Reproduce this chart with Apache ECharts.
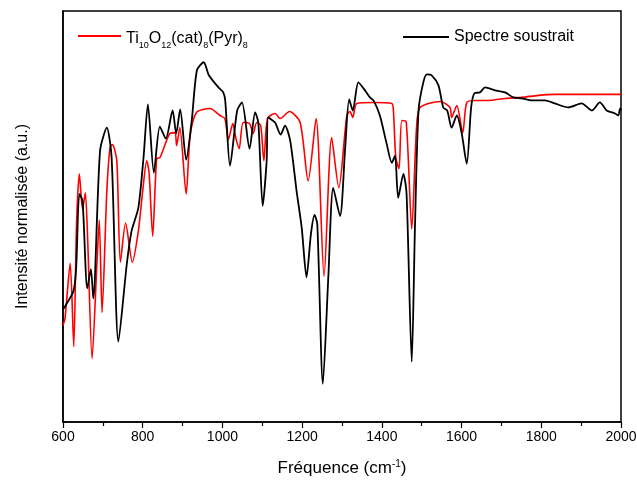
<!DOCTYPE html>
<html>
<head>
<meta charset="utf-8">
<script src="https://cdn.jsdelivr.net/npm/echarts@6/dist/echarts.min.js"></script>
<style>
  html, body { margin: 0; padding: 0; background: #fff; }
  #chart { width: 637px; height: 488px; }
</style>
</head>
<body>
<div id="chart"></div>
<script>
// wavenumbers (cm-1) and normalised intensities
const redX = [600, 605, 618, 627, 634, 641, 649, 656, 662, 673, 685, 691, 698, 710, 718, 724, 735, 744, 757, 774, 789, 800, 810, 816, 825, 835, 843, 856, 868, 881, 885, 893, 909, 919, 935, 969, 994, 1006, 1015, 1026, 1034, 1042, 1052, 1068, 1077, 1086, 1096, 1104, 1113, 1132, 1145, 1168, 1195, 1215, 1235, 1255, 1274, 1292, 1312, 1320, 1327, 1337, 1379, 1425, 1429, 1435, 1443, 1450, 1461, 1475, 1487, 1496, 1546, 1571, 1575, 1588, 1603, 1613, 1634, 1667, 1709, 1751, 1793, 1834, 1918, 2000]
const redY = [96, 103, 158, 75, 197, 247, 212, 228, 180, 63, 157, 201, 109, 230, 273, 276, 260, 159, 198, 159, 190, 230, 260, 248, 185, 262, 263, 276, 287, 288, 275, 293, 227, 285, 308, 312, 305, 302, 281, 297, 282, 272, 298, 297, 287, 298, 295, 260, 302, 307, 302, 309, 298, 240, 302, 145, 283, 233, 305, 309, 303, 317, 318, 317, 310, 263, 252, 300, 299, 192, 293, 313, 319, 313, 303, 315, 288, 318, 320, 320, 322, 323, 325, 326, 326, 326]

const blackX = [600, 605, 626, 633, 641, 649, 661, 670, 676, 693, 710, 722, 739, 760, 772, 789, 802, 813, 828, 843, 858, 875, 884, 894, 909, 923, 936, 953, 966, 990, 1002, 1007, 1019, 1037, 1049, 1068, 1082, 1090, 1101, 1111, 1115, 1132, 1146, 1157, 1170, 1186, 1199, 1211, 1222, 1231, 1238, 1252, 1266, 1278, 1295, 1308, 1318, 1327, 1341, 1354, 1370, 1379, 1395, 1412, 1425, 1433, 1441, 1454, 1462, 1475, 1483, 1492, 1504, 1513, 1525, 1542, 1554, 1564, 1575, 1588, 1600, 1613, 1624, 1632, 1646, 1659, 1684, 1709, 1730, 1751, 1776, 1809, 1834, 1868, 1901, 1927, 1947, 1964, 1985, 1993, 1998, 2000]
const blackY = [112, 115, 130, 153, 227, 220, 133, 152, 123, 270, 293, 263, 80, 157, 190, 213, 263, 316, 248, 294, 282, 310, 287, 311, 261, 300, 350, 358, 345, 333, 328, 320, 255, 310, 318, 272, 308, 298, 215, 260, 303, 298, 286, 295, 280, 230, 193, 144, 187, 206, 197, 38, 147, 233, 205, 273, 321, 310, 338, 332, 323, 320, 305, 277, 258, 265, 223, 247, 227, 60, 193, 310, 338, 346, 345, 335, 313, 310, 293, 305, 288, 257, 313, 327, 328, 333, 330, 328, 323, 322, 320, 320, 317, 313, 317, 310, 318, 310, 307, 305, 312, 310]

const xTicks = [600, 800, 1000, 1200, 1400, 1600, 1800, 2000]

const zip = (xs, ys) => xs.map((x, i) => [x, ys[i]])
const font = 'Liberation Sans, Arial, sans-serif'

const chart = echarts.init(document.getElementById('chart'), null, { renderer: 'canvas' })

const subRich = {
  n: { fontSize: 16, fontFamily: font, color: '#000', lineHeight: 22, verticalAlign: 'bottom' },
  s: { fontSize: 9, fontFamily: font, color: '#000', lineHeight: 22, verticalAlign: 'bottom', padding: [0, 0, -3, 0] }
}

chart.setOption({
  animation: false,
  backgroundColor: '#fff',
  grid: {
    left: 63, right: 16, top: 11, bottom: 66,
    show: true, borderColor: '#000', borderWidth: 1.5,
    containLabel: false, outerBoundsMode: 'none'
  },
  legend: [
    {
      data: ['red'],
      left: 78, top: 31, padding: 0,
      icon: 'rect', itemWidth: 43, itemHeight: 2,
      formatter: () => '{n|Ti}{s|10}{n|O}{s|12}{n|(cat)}{s|8}{n|(Pyr)}{s|8}',
      textStyle: { rich: subRich }
    },
    {
      data: ['black'],
      left: 403, top: 26, padding: 0,
      icon: 'rect', itemWidth: 46, itemHeight: 2,
      formatter: () => 'Spectre soustrait',
      textStyle: { fontSize: 16, fontFamily: font, color: '#000', lineHeight: 22 }
    }
  ],
  xAxis: {
    type: 'value',
    min: 600, max: 2000, interval: 200,
    name: 'Fréquence (cm{sup|-1})',
    nameLocation: 'middle', nameGap: 37,
    nameTextStyle: {
      fontSize: 17, fontFamily: font, color: '#000',
      rich: { sup: { fontSize: 10, fontFamily: font, color: '#000', verticalAlign: 'top', padding: [0, 0, 8, 0] } }
    },
    axisLine: { lineStyle: { color: '#000', width: 1.5 } },
    axisTick: { show: true, length: 6, lineStyle: { color: '#000', width: 1.2 } },
    minorTick: { show: true, splitNumber: 2, length: 4, lineStyle: { color: '#000', width: 1.2 } },
    axisLabel: {
      fontSize: 14, fontFamily: font, color: '#000', margin: 8,
      customValues: xTicks, formatter: v => String(v)
    },
    splitLine: { show: false }
  },
  yAxis: {
    type: 'value',
    min: 0, max: 409,
    name: 'Intensité normalisée (a.u.)',
    nameLocation: 'middle', nameGap: 32,
    nameTextStyle: { fontSize: 16, fontFamily: font, color: '#000' },
    axisLine: { show: true, lineStyle: { color: '#000', width: 1.5 } },
    axisTick: { show: false },
    axisLabel: { show: false },
    splitLine: { show: false }
  },
  series: [
    {
      name: 'red', type: 'line', data: zip(redX, redY),
      showSymbol: false, smooth: 0.25,
      lineStyle: { color: '#ff0000', width: 1.6 }, itemStyle: { color: '#ff0000' }, z: 2
    },
    {
      name: 'black', type: 'line', data: zip(blackX, blackY),
      showSymbol: false, smooth: 0.25,
      lineStyle: { color: '#000', width: 1.8 }, itemStyle: { color: '#000' }, z: 3
    }
  ]
})
</script>
</body>
</html>
